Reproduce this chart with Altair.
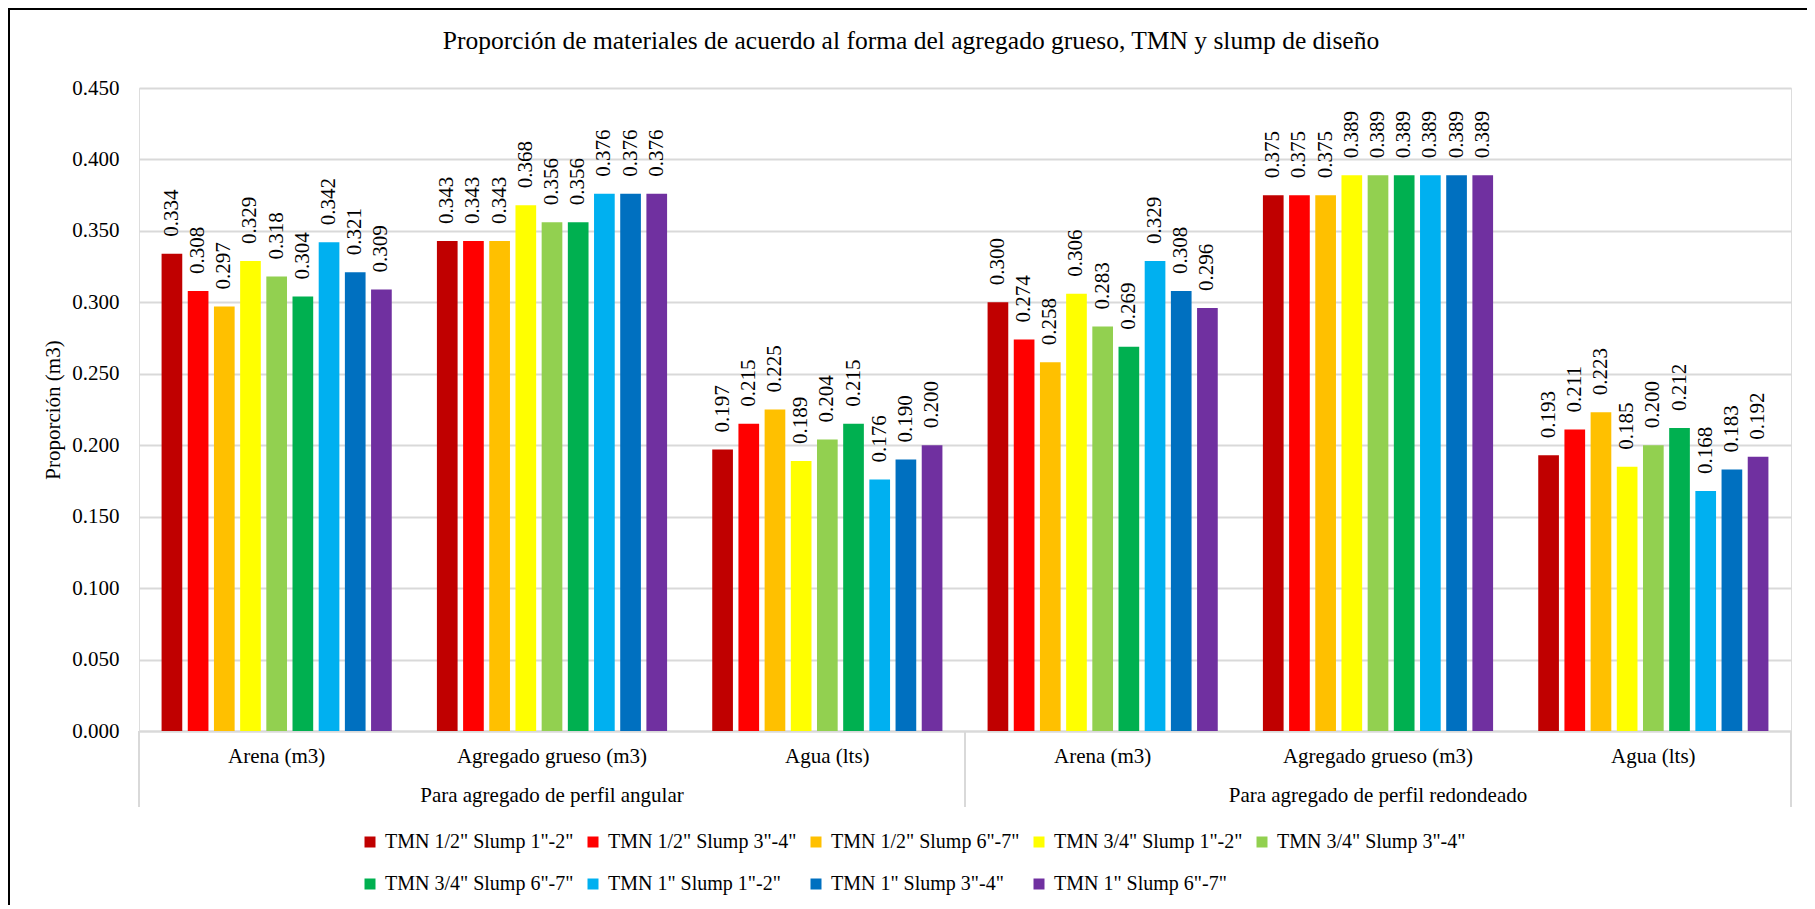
import altair as alt
import pandas as pd

FONT = "Liberation Serif"

series = ['TMN 1/2" Slump 1"-2"', 'TMN 1/2" Slump 3"-4"', 'TMN 1/2" Slump 6"-7"',
          'TMN 3/4" Slump 1"-2"', 'TMN 3/4" Slump 3"-4"', 'TMN 3/4" Slump 6"-7"',
          'TMN 1"  Slump 1"-2"', 'TMN 1"  Slump 3"-4"', 'TMN 1"  Slump 6"-7"']
colors = ["#C00000", "#FF0000", "#FFC000", "#FFFF00", "#92D050",
          "#00B050", "#00B0F0", "#0070C0", "#7030A0"]

groups = ["Para agregado de perfil angular", "Para agregado de perfil redondeado"]
materials = ["Arena (m3)", "Agregado grueso (m3)", "Agua (lts)"]

angular_arena = [0.334, 0.308, 0.297, 0.329, 0.318, 0.304, 0.342, 0.321, 0.309]
angular_grueso = [0.343, 0.343, 0.343, 0.368, 0.356, 0.356, 0.376, 0.376, 0.376]
angular_agua = [0.197, 0.215, 0.225, 0.189, 0.204, 0.215, 0.176, 0.190, 0.200]
redondeado_arena = [0.300, 0.274, 0.258, 0.306, 0.283, 0.269, 0.329, 0.308, 0.296]
redondeado_grueso = [0.375, 0.375, 0.375, 0.389, 0.389, 0.389, 0.389, 0.389, 0.389]
redondeado_agua = [0.193, 0.211, 0.223, 0.185, 0.200, 0.212, 0.168, 0.183, 0.192]

y_ticks = [0, 0.05, 0.1, 0.15, 0.2, 0.25, 0.3, 0.35, 0.4, 0.45]

values_by_group = {
    groups[0]: [angular_arena, angular_grueso, angular_agua],
    groups[1]: [redondeado_arena, redondeado_grueso, redondeado_agua],
}

rows = []
keys = []
for g in groups:
    for m, vals in zip(materials, values_by_group[g]):
        key = g + "|" + m
        keys.append(key)
        for s, v in zip(series, vals):
            rows.append({"group": g, "material": m, "key": key, "series": s, "value": v})
df = pd.DataFrame(rows)
gdf = pd.DataFrame({"group": groups})
one = pd.DataFrame({"a": [0]})

W, H = 1652, 643

xscale = alt.Scale(paddingInner=0.164, paddingOuter=0.082)
xmain = alt.X("key:N", sort=keys, scale=xscale,
              axis=alt.Axis(title=None, labelExpr="split(datum.value, '|')[1]",
                            ticks=False, domainColor="#d9d9d9", domainWidth=2,
                            labelPadding=14, labelFontSize=21, labelFont=FONT,
                            labelColor="black", labelAngle=0, labelLimit=400, grid=False))
xoff = alt.XOffset("series:N", sort=series, scale=alt.Scale(paddingInner=0.21, paddingOuter=0))
yaxis = alt.Axis(values=y_ticks, format=".3f", title="Proporción (m3)", titleFont=FONT,
                 titleFontSize=21, titleFontWeight="normal", titleColor="black",
                 titlePadding=8, labelFont=FONT, labelFontSize=21,
                 labelColor="black", labelPadding=20, ticks=False, domain=False,
                 grid=True, gridColor="#d9d9d9", gridWidth=2)
yenc = alt.Y("value:Q", scale=alt.Scale(domain=[0, 0.45], nice=False), axis=yaxis)

bars = alt.Chart(df).mark_bar().encode(
    x=xmain, xOffset=xoff, y=yenc,
    color=alt.Color("series:N", sort=series,
                    scale=alt.Scale(domain=series, range=colors),
                    legend=alt.Legend(title=None, orient="none", legendX=221, legendY=744,
                                      direction="horizontal", columns=5, symbolType="square",
                                      symbolSize=121, symbolStrokeWidth=0, labelFontSize=20,
                                      labelFont=FONT, labelColor="black", labelOffset=5,
                                      columnPadding=9, rowPadding=22, gridAlign="all",
                                      labelLimit=400, padding=0)),
)

labels = alt.Chart(df).mark_text(angle=270, align="left", baseline="middle", dx=17,
                                 fontSize=21, font=FONT, color="black").encode(
    x=xmain, xOffset=xoff, y=yenc,
    text=alt.Text("value:Q", format=".3f"),
)

gscale = alt.Scale(paddingInner=0, paddingOuter=0)
sep_left = alt.Chart(gdf).mark_rule(color="#d9d9d9", strokeWidth=2).encode(
    x=alt.X("group:N", sort=groups, scale=gscale, axis=None, bandPosition=0),
    y=alt.value(H), y2=alt.value(H + 76),
)
sep_right = alt.Chart(gdf).mark_rule(color="#d9d9d9", strokeWidth=2).encode(
    x=alt.X("group:N", sort=groups, scale=gscale, axis=None, bandPosition=1),
    y=alt.value(H), y2=alt.value(H + 76),
)
glabels = alt.Chart(gdf).mark_text(fontSize=21, font=FONT, color="black", baseline="middle").encode(
    x=alt.X("group:N", sort=groups, scale=gscale, axis=None),
    y=alt.value(H + 65),
    text="group:N",
)

border_left = alt.Chart(one).mark_rule(color="black", strokeWidth=2).encode(
    x=alt.value(-130), y=alt.value(-79), y2=alt.value(H + 174))
border_top = alt.Chart(one).mark_rule(color="black", strokeWidth=2).encode(
    x=alt.value(-131), x2=alt.value(W + 16), y=alt.value(-79))

main = alt.layer(bars, labels)

chart = alt.layer(border_left, border_top, main, sep_left, sep_right, glabels).resolve_scale(
    x="independent"
).properties(
    width=W, height=H,
    padding={"left": 131, "top": 80, "right": 16, "bottom": 175},
    autosize=alt.AutoSizeParams(type="none"),
    title=alt.TitleParams("Proporción de materiales de acuerdo al forma del agregado grueso, TMN y slump de diseño",
                          font=FONT, fontSize=25.5, fontWeight="normal", color="black",
                          anchor="middle", frame="group", dx=-54, offset=-46),
).configure_view(stroke=None).configure(font=FONT)

chart.save("out.html", embed_options={"renderer": "svg", "actions": False})
